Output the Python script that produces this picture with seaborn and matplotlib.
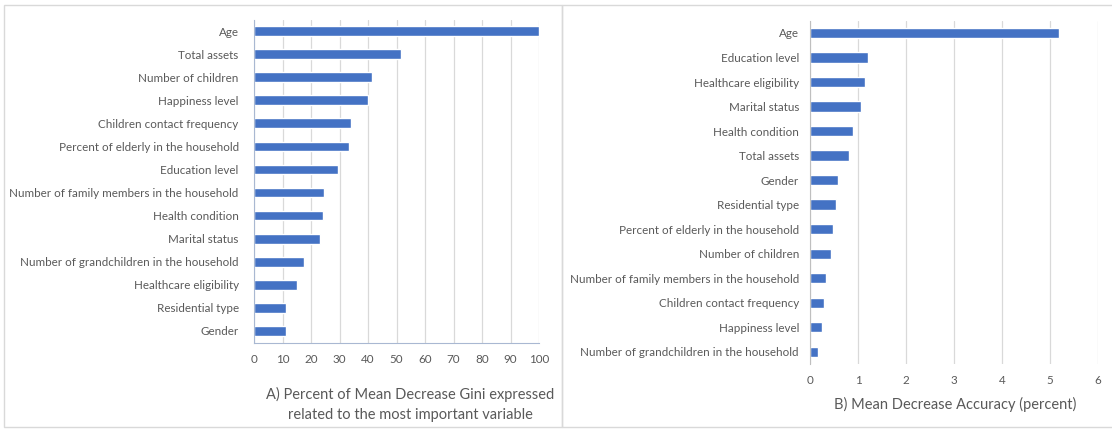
import matplotlib
matplotlib.use("Agg")
import matplotlib.pyplot as plt
import seaborn as sns
import pandas as pd
from matplotlib.patches import Rectangle

# Panel A: percent of mean decrease Gini (relative to top variable)
gini_vars = ["Age", "Total assets", "Number of children", "Happiness level",
             "Children contact frequency", "Percent of elderly in the household",
             "Education level", "Number of family members in the household",
             "Health condition", "Marital status",
             "Number of grandchildren in the household", "Healthcare eligibility",
             "Residential type", "Gender"]
gini_vals = [100, 51.5, 41.5, 40.0, 34.2, 33.3, 29.3, 24.6, 24.2, 23.2, 17.7, 15.2, 11.3, 11.3]

# Panel B: mean decrease accuracy (percent)
acc_vars = ["Age", "Education level", "Healthcare eligibility", "Marital status",
            "Health condition", "Total assets", "Gender", "Residential type",
            "Percent of elderly in the household", "Number of children",
            "Number of family members in the household", "Children contact frequency",
            "Happiness level", "Number of grandchildren in the household"]
acc_vals = [5.18, 1.21, 1.14, 1.06, 0.90, 0.82, 0.585, 0.54, 0.48, 0.44, 0.33, 0.29, 0.24, 0.16]

df_a = pd.DataFrame({"var": gini_vars, "val": gini_vals})
df_b = pd.DataFrame({"var": acc_vars, "val": acc_vals})

sns.set_style("white")
plt.rcParams['font.family'] = ['Lato', 'DejaVu Sans']

bar_color = "#4472C4"
text_grey = "#595959"
grid_grey = "#d9d9d9"

fig = plt.figure(figsize=(11.12, 4.29), dpi=100)

# panel frames
fig.patches.append(Rectangle((4 / 1112, 2 / 429), 558 / 1112, 422 / 429, transform=fig.transFigure,
                             fill=False, edgecolor=grid_grey, lw=1))
fig.patches.append(Rectangle((562 / 1112, 2 / 429), 560 / 1112, 422 / 429, transform=fig.transFigure,
                             fill=False, edgecolor=grid_grey, lw=1))

ax1 = fig.add_axes([254 / 1112, 1 - 342.5 / 429, 285 / 1112, 323 / 429])
ax2 = fig.add_axes([810 / 1112, 1 - 364 / 429, 288 / 1112, 343.3 / 429])

sns.barplot(data=df_a, y="var", x="val", order=gini_vars, color=bar_color,
            width=0.42, ax=ax1, saturation=1)
sns.barplot(data=df_b, y="var", x="val", order=acc_vars, color=bar_color,
            width=0.42, ax=ax2, saturation=1)

ax1.set_xlim(0, 100)
ax1.set_xticks(range(0, 101, 10))
ax2.set_xlim(0, 6)
ax2.set_xticks(range(0, 7))

for ax, pad in ((ax1, 11), (ax2, 8)):
    ax.set_xlabel("")
    ax.set_ylabel("")
    ax.set_axisbelow(True)
    ax.xaxis.grid(True, color=grid_grey, lw=0.9)
    ax.yaxis.grid(False)
    ax.tick_params(axis="both", length=0, labelsize=8.4, labelcolor=text_grey)
    ax.tick_params(axis="y", pad=pad)
    ax.tick_params(axis="x", pad=8)
    for s in ("top", "right"):
        ax.spines[s].set_visible(False)

ax1.spines["left"].set_color("#a9b8d2")
ax1.spines["bottom"].set_color("#a9b8d2")
ax2.spines["left"].set_color("#bfbfbf")
ax2.spines["bottom"].set_visible(False)

fig.text(410 / 1112, 1 - 394 / 429, "A) Percent of Mean Decrease Gini expressed",
         ha="center", va="center", fontsize=10.5, color=text_grey)
fig.text(410 / 1112, 1 - 415 / 429, "related to the most important variable",
         ha="center", va="center", fontsize=10.5, color=text_grey)
fig.text(955 / 1112, 1 - 404 / 429, "B) Mean Decrease Accuracy (percent)",
         ha="center", va="center", fontsize=10.5, color=text_grey)

fig.savefig("out.png", dpi=100)
